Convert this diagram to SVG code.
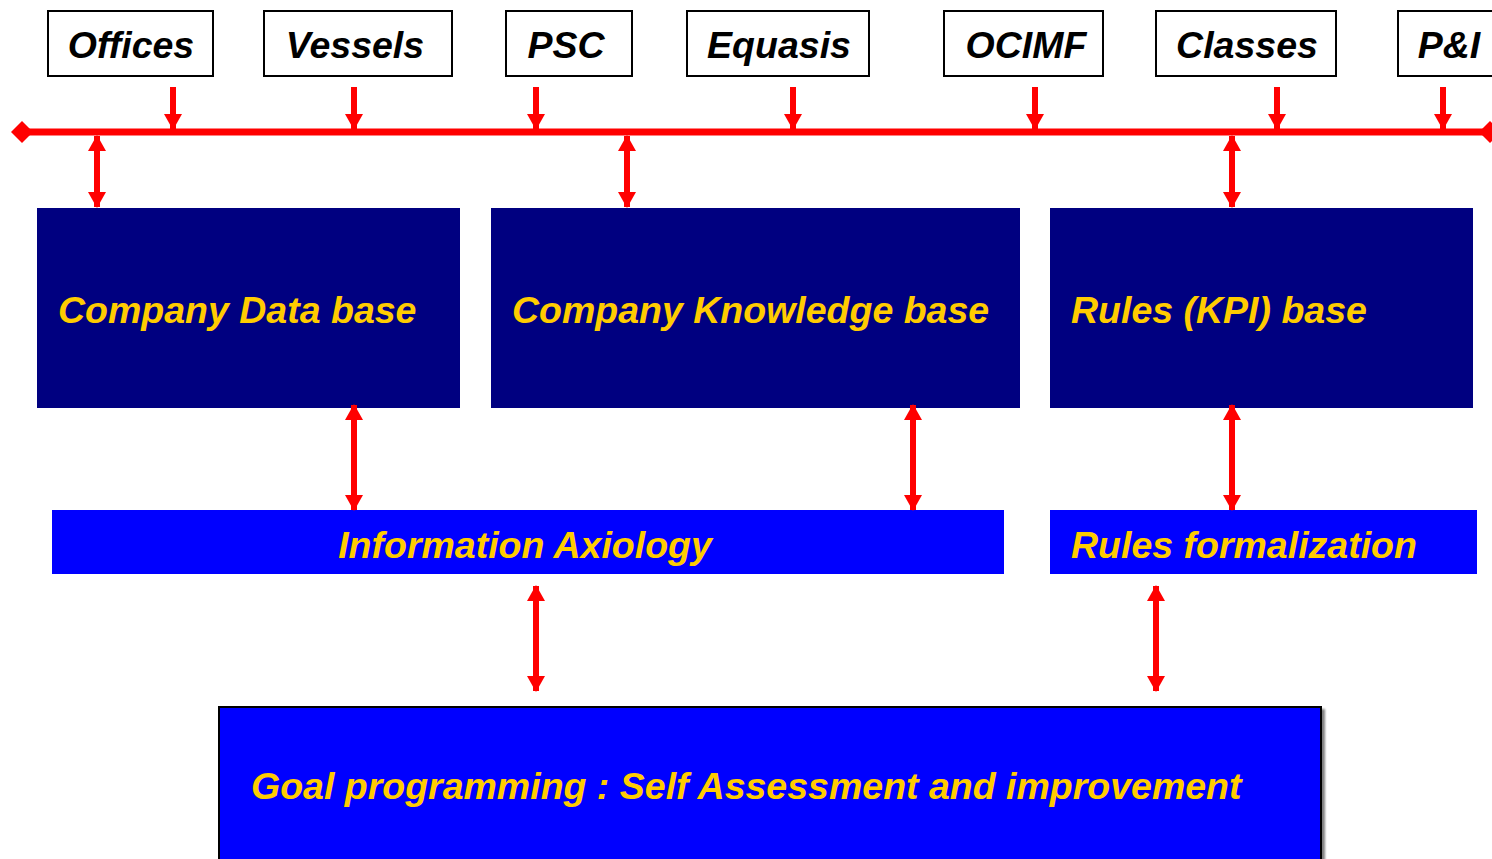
<svg xmlns="http://www.w3.org/2000/svg" width="1492" height="859" viewBox="0 0 1492 859">
  <style>
    .src rect { fill: #ffffff; stroke: #000000; stroke-width: 2; }
    .src text { font-family: "Liberation Sans", Arial, sans-serif; font-weight: bold; font-style: italic; font-size: 37.5px; fill: #000000; text-anchor: middle; }
    .lbl { font-family: "Liberation Sans", Arial, sans-serif; font-weight: bold; font-style: italic; font-size: 37.5px; fill: #FFCC00; }
    .navy { fill: #000080; }
    .blue { fill: #0000FF; }
    .wire { stroke: #FF0000; stroke-width: 6; fill: none; }
    .bus { stroke: #FF0000; stroke-width: 7; fill: none; }
  </style>
  <defs>
    <marker id="head" viewBox="0 0 16 18" refX="15" refY="9" markerWidth="16" markerHeight="18" markerUnits="userSpaceOnUse" orient="auto-start-reverse">
      <path d="M0,0 L16,9 L0,18 Z" fill="#FF0000"/>
    </marker>
    <filter id="shadow" x="-5%" y="-5%" width="110%" height="115%">
      <feDropShadow dx="3" dy="3" stdDeviation="1" flood-color="#808080" flood-opacity="1"/>
    </filter>
  </defs>

  <!-- data sources -->
  <g id="offices" class="src"><rect x="48" y="11" width="165" height="65"/><text x="131" y="58">Offices</text></g>
  <g id="vessels" class="src"><rect x="264" y="11" width="188" height="65"/><text x="355" y="58">Vessels</text></g>
  <g id="psc" class="src"><rect x="506" y="11" width="126" height="65"/><text x="566" y="58">PSC</text></g>
  <g id="equasis" class="src"><rect x="687" y="11" width="182" height="65"/><text x="779" y="58">Equasis</text></g>
  <g id="ocimf" class="src"><rect x="944" y="11" width="159" height="65"/><text x="1026" y="58">OCIMF</text></g>
  <g id="classes" class="src"><rect x="1156" y="11" width="180" height="65"/><text x="1247" y="58">Classes</text></g>
  <g id="pandi" class="src"><rect x="1398" y="11" width="110" height="65"/><text x="1449" y="58">P&amp;I</text></g>

  <!-- knowledge stores -->
  <g id="company-data-base"><rect class="navy" x="37" y="208" width="423" height="200"/><text class="lbl" x="58" y="323">Company Data base</text></g>
  <g id="company-knowledge-base"><rect class="navy" x="491" y="208" width="529" height="200"/><text class="lbl" x="512" y="323">Company Knowledge base</text></g>
  <g id="rules-kpi-base"><rect class="navy" x="1050" y="208" width="423" height="200"/><text class="lbl" x="1071" y="323">Rules (KPI) base</text></g>

  <!-- processing layer -->
  <g id="information-axiology"><rect class="blue" x="52" y="510" width="952" height="64"/><text class="lbl" x="525" y="558" text-anchor="middle">Information Axiology</text></g>
  <g id="rules-formalization"><rect class="blue" x="1050" y="510" width="427" height="64"/><text class="lbl" x="1071" y="558">Rules formalization</text></g>

  <!-- goal programming -->
  <g id="goal-programming"><rect x="219" y="707" width="1102" height="170" fill="#0000FF" stroke="#000000" stroke-width="2" filter="url(#shadow)"/><text class="lbl" x="251" y="799">Goal programming : Self Assessment and improvement</text></g>

  <!-- connectors -->
  <g id="connectors">
    <!-- information bus -->
    <line class="bus" x1="22" y1="132" x2="1490" y2="132"/>
    <path d="M22,121 L33,132 L22,143 L11,132 Z" fill="#FF0000"/>
    <path d="M1490,121 L1501,132 L1490,143 L1479,132 Z" fill="#FF0000"/>

    <!-- sources into bus -->
    <line class="wire" x1="173" y1="87" x2="173" y2="129" marker-end="url(#head)"/>
    <line class="wire" x1="354" y1="87" x2="354" y2="129" marker-end="url(#head)"/>
    <line class="wire" x1="536" y1="87" x2="536" y2="129" marker-end="url(#head)"/>
    <line class="wire" x1="793" y1="87" x2="793" y2="129" marker-end="url(#head)"/>
    <line class="wire" x1="1035" y1="87" x2="1035" y2="129" marker-end="url(#head)"/>
    <line class="wire" x1="1277" y1="87" x2="1277" y2="129" marker-end="url(#head)"/>
    <line class="wire" x1="1443" y1="87" x2="1443" y2="129" marker-end="url(#head)"/>

    <!-- bus to stores -->
    <line class="wire" x1="97" y1="136" x2="97" y2="207" marker-start="url(#head)" marker-end="url(#head)"/>
    <line class="wire" x1="627" y1="136" x2="627" y2="207" marker-start="url(#head)" marker-end="url(#head)"/>
    <line class="wire" x1="1232" y1="136" x2="1232" y2="207" marker-start="url(#head)" marker-end="url(#head)"/>

    <!-- stores to processing -->
    <line class="wire" x1="354" y1="405" x2="354" y2="510" marker-start="url(#head)" marker-end="url(#head)"/>
    <line class="wire" x1="913" y1="405" x2="913" y2="510" marker-start="url(#head)" marker-end="url(#head)"/>
    <line class="wire" x1="1232" y1="405" x2="1232" y2="510" marker-start="url(#head)" marker-end="url(#head)"/>

    <!-- processing to goal programming -->
    <line class="wire" x1="536" y1="586" x2="536" y2="691" marker-start="url(#head)" marker-end="url(#head)"/>
    <line class="wire" x1="1156" y1="586" x2="1156" y2="691" marker-start="url(#head)" marker-end="url(#head)"/>
  </g>
</svg>
